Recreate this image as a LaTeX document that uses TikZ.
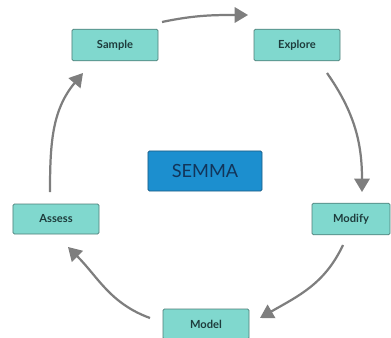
\documentclass[tikz,border=0pt]{standalone}
\usepackage{fontspec}
\setmainfont{Lato}
\usetikzlibrary{arrows.meta, positioning, calc}
\definecolor{stepFill}{HTML}{80D8CE}
\definecolor{stepLine}{HTML}{4E7E78}
\definecolor{stepText}{HTML}{1E3C3C}
\definecolor{hubFill}{HTML}{1C8FCF}
\definecolor{hubLine}{HTML}{1D5A82}
\definecolor{hubText}{HTML}{12355A}
\definecolor{arrowGrey}{HTML}{7E7E7E}
\tikzset{
    stepNode/.style={rectangle, rounded corners=1.2pt, draw=stepLine, line width=0.6pt, fill=stepFill, text=stepText, font=\bfseries\fontsize{9.5}{11}\selectfont, minimum width=2.58cm, minimum height=0.95cm, inner sep=0pt},
    hubNode/.style={rectangle, rounded corners=1.2pt, draw=hubLine, line width=0.7pt, fill=hubFill, text=hubText, font=\fontsize{15.5}{18}\selectfont, minimum width=3.42cm, minimum height=1.2cm, inner sep=0pt},
    cycleArrow/.style={-{Triangle[width=0.46cm, length=0.4cm]}, draw=arrowGrey, line width=1.9pt},
}
\newcommand{\drawCycle}[3]{
    \draw[cycleArrow] (#1) to[#3] (#2);
}

\begin{document}
\begin{tikzpicture}[x=0.03cm, y=-0.03cm]
        \useasboundingbox (0,0) rectangle (391,338);

        \node[hubNode] (semma) at (205,171) {SEMMA};

        \node[stepNode] (sample) at (115,45) {Sample};
        \node[stepNode] (explore) at (297,45) {Explore};
        \node[stepNode, minimum width=2.34cm] (modify) at (351,219) {Modify};
        \node[stepNode, minimum height=0.9cm] (model) at (206,324) {Model};
        \node[stepNode, minimum height=0.9cm] (assess) at (56,219) {Assess};

        % arrow ends, kept clear of the boxes
        \coordinate (sampleOut) at (162,22);
        \coordinate (exploreIn) at (248,15);
        \coordinate (exploreOut) at (327,73);
        \coordinate (modifyIn) at (362,192);
        \coordinate (modifyOut) at (343,245);
        \coordinate (modelIn) at (260,318);
        \coordinate (modelOut) at (150,318);
        \coordinate (assessIn) at (68,247);
        \coordinate (assessOut) at (50,192);
        \coordinate (sampleIn) at (83,73);

        \drawCycle{sampleOut}{exploreIn}{out=12, in=180}
        \drawCycle{exploreOut}{modifyIn}{out=-55, in=90}
        \drawCycle{modifyOut}{modelIn}{out=-115, in=30}
        \drawCycle{modelOut}{assessIn}{out=160, in=-45}
        \drawCycle{assessOut}{sampleIn}{out=90, in=-130}

    \end{tikzpicture}
\end{document}
